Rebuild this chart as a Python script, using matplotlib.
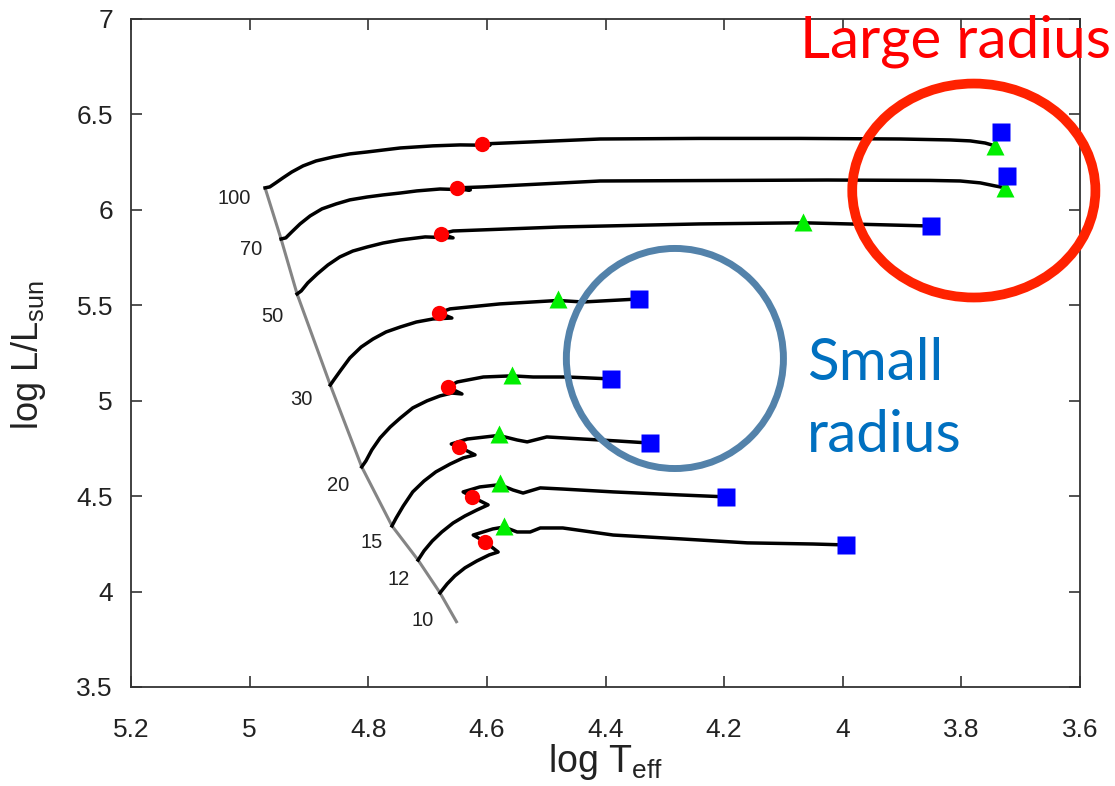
import matplotlib
matplotlib.use("Agg")
import matplotlib.pyplot as plt
from matplotlib.patches import Ellipse

plt.rcParams['font.family'] = ['Liberation Sans', 'DejaVu Sans']
plt.rcParams['mathtext.default'] = 'regular'

# ZAMS line (grey) and mass labels
zams_x = [4.974, 4.947, 4.920, 4.864, 4.811, 4.760, 4.716, 4.679, 4.650]
zams_y = [6.115, 5.847, 5.559, 5.082, 4.653, 4.344, 4.165, 3.993, 3.835]
mass_labels = ['100', '70', '50', '30', '20', '15', '12', '10']
label_x = [5.026, 4.998, 4.961, 4.912, 4.851, 4.794, 4.748, 4.709]
label_y = [6.057, 5.790, 5.439, 5.004, 4.553, 4.255, 4.061, 3.846]

# evolutionary tracks
t100_x = [4.974, 4.966, 4.956, 4.944, 4.929, 4.910, 4.888, 4.859, 4.831, 4.802, 4.746, 4.691, 4.645,
          4.595, 4.608, 4.522, 4.409, 4.241, 4.072, 3.903, 3.819, 3.785, 3.760, 3.743]
t100_y = [6.115, 6.120, 6.141, 6.167, 6.198, 6.230, 6.256, 6.277, 6.293, 6.303, 6.324, 6.335, 6.340,
          6.338, 6.345, 6.356, 6.371, 6.374, 6.374, 6.371, 6.366, 6.361, 6.350, 6.335]
t70_x = [4.947, 4.939, 4.929, 4.915, 4.898, 4.878, 4.854, 4.831, 4.802, 4.775, 4.746, 4.718, 4.679,
         4.628, 4.650, 4.606, 4.409, 4.026, 3.853, 3.802, 3.768, 3.743, 3.726]
t70_y = [5.847, 5.853, 5.884, 5.926, 5.968, 6.005, 6.031, 6.052, 6.067, 6.078, 6.088, 6.099, 6.109,
         6.104, 6.115, 6.120, 6.151, 6.156, 6.154, 6.151, 6.141, 6.125, 6.115]
t50_x = [4.920, 4.913, 4.902, 4.886, 4.868, 4.848, 4.826, 4.802, 4.775, 4.746, 4.704, 4.657,
         4.677, 4.657, 4.477, 4.241, 4.067, 3.851]
t50_y = [5.559, 5.575, 5.617, 5.664, 5.711, 5.753, 5.784, 5.805, 5.826, 5.842, 5.858, 5.853,
         5.874, 5.889, 5.910, 5.926, 5.932, 5.915]
t30_x = [4.864, 4.858, 4.846, 4.831, 4.812, 4.792, 4.770, 4.746, 4.719, 4.691, 4.659,
         4.681, 4.662, 4.578, 4.480, 4.438, 4.343]
t30_y = [5.082, 5.109, 5.161, 5.224, 5.281, 5.323, 5.360, 5.386, 5.412, 5.428, 5.433,
         5.460, 5.481, 5.507, 5.525, 5.517, 5.533]
t20_x = [4.811, 4.804, 4.794, 4.780, 4.763, 4.746, 4.725, 4.701, 4.679, 4.659, 4.642,
         4.666, 4.650, 4.606, 4.558, 4.522, 4.465, 4.391]
t20_y = [4.653, 4.684, 4.742, 4.805, 4.862, 4.909, 4.962, 4.999, 5.025, 5.040, 5.035,
         5.072, 5.098, 5.124, 5.130, 5.124, 5.124, 5.114]
t15_x = [4.760, 4.753, 4.741, 4.725, 4.706, 4.686, 4.662, 4.640, 4.620,
         4.647, 4.660, 4.633, 4.580, 4.549, 4.532, 4.499, 4.438, 4.381, 4.325]
t15_y = [4.344, 4.385, 4.448, 4.522, 4.579, 4.627, 4.668, 4.700, 4.716,
         4.758, 4.773, 4.799, 4.818, 4.794, 4.784, 4.810, 4.799, 4.789, 4.778]
t12_x = [4.716, 4.706, 4.692, 4.676, 4.657, 4.637, 4.617, 4.598,
         4.625, 4.640, 4.612, 4.578, 4.556, 4.539, 4.510, 4.472, 4.387, 4.274, 4.197]
t12_y = [4.165, 4.213, 4.265, 4.312, 4.359, 4.396, 4.427, 4.454,
         4.496, 4.522, 4.548, 4.560, 4.532, 4.516, 4.543, 4.537, 4.522, 4.506, 4.496]
t10_x = [4.679, 4.667, 4.654, 4.637, 4.617, 4.596, 4.581,
         4.603, 4.623, 4.590, 4.571, 4.549, 4.527, 4.510, 4.472, 4.387, 4.274, 4.161, 4.050, 3.994]
t10_y = [3.993, 4.040, 4.082, 4.124, 4.160, 4.192, 4.207,
         4.260, 4.296, 4.328, 4.338, 4.312, 4.312, 4.333, 4.333, 4.296, 4.276, 4.255, 4.249, 4.244]

# markers (100 ... 10 Msun)
red_x = [4.608, 4.650, 4.677, 4.681, 4.666, 4.647, 4.625, 4.603]
red_y = [6.345, 6.115, 5.874, 5.460, 5.072, 4.758, 4.496, 4.260]
tri_x = [3.743, 3.726, 4.067, 4.480, 4.558, 4.580, 4.578, 4.571]
tri_y = [6.335, 6.115, 5.936, 5.533, 5.135, 4.826, 4.569, 4.344]
sq_x = [3.733, 3.723, 3.851, 4.343, 4.391, 4.325, 4.197, 3.994]
sq_y = [6.408, 6.177, 5.915, 5.533, 5.114, 4.778, 4.496, 4.244]

tracks = [(t100_x, t100_y), (t70_x, t70_y), (t50_x, t50_y), (t30_x, t30_y),
          (t20_x, t20_y), (t15_x, t15_y), (t12_x, t12_y), (t10_x, t10_y)]

fig = plt.figure(figsize=(11.15, 7.86), dpi=100)
ax = fig.add_axes([0.1175, 0.126, 0.8511, 0.8499])

ax.plot(zams_x, zams_y, color='#858585', lw=2.2, solid_capstyle='butt', zorder=2)
for tx, ty in tracks:
    ax.plot(tx, ty, color='black', lw=2.5, solid_joinstyle='round', zorder=3)

ax.plot(red_x, red_y, 'o', color='#ff0000', ms=11, mec='none', zorder=4)
ax.plot(tri_x, tri_y, '^', color='#00ee00', ms=13, mec='none', zorder=4)
ax.plot(sq_x, sq_y, 's', color='#0000ff', ms=12.5, mec='none', zorder=4)

for lab, lx, ly in zip(mass_labels, label_x, label_y):
    ax.text(lx, ly, lab, fontsize=14.5, ha='center', va='center', color='#222222')

ax.set_xlim(5.2, 3.6)
ax.set_ylim(3.5, 7)
ax.set_xticks([5.2, 5.0, 4.8, 4.6, 4.4, 4.2, 4.0, 3.8, 3.6])
ax.set_xticklabels(['5.2', '5', '4.8', '4.6', '4.4', '4.2', '4', '3.8', '3.6'])
ax.set_yticks([3.5, 4, 4.5, 5, 5.5, 6, 6.5, 7])
ax.set_yticklabels(['3.5', '4', '4.5', '5', '5.5', '6', '6.5', '7'])
ax.tick_params(direction='in', top=True, right=True, length=8, width=1.2,
               labelsize=19, color='#333333', labelcolor='#222222')
ax.tick_params(axis='x', pad=22)
ax.tick_params(axis='y', pad=13)
for s in ax.spines.values():
    s.set_linewidth(1.3)
    s.set_color('#333333')

ax.set_xlabel('log T$_{eff}$', fontsize=27, labelpad=0, color='#222222')
ax.set_ylabel('log L/L$_{sun}$', fontsize=26, color='#222222')
ax.yaxis.set_label_coords(-0.088, 0.497)

# highlight circles
ax.add_patch(Ellipse((3.779, 6.101), 0.410, 1.121, fill=False, ec='#ff2200',
                     lw=7, clip_on=False, zorder=6))
ax.add_patch(Ellipse((4.283, 5.221), 0.366, 1.153, fill=False, ec='#5382aa',
                     lw=5, clip_on=False, zorder=6))

fig.text(800 / 1115, 1 - 58 / 786, 'Large radius', fontsize=42, color='#ff0000',
         family=['Lato', 'DejaVu Sans'], ha='left', va='baseline')
fig.text(807 / 1115, 1 - 380 / 786, 'Small', fontsize=42, color='#0070c0',
         family=['Lato', 'DejaVu Sans'], ha='left', va='baseline')
fig.text(807 / 1115, 1 - 452 / 786, 'radius', fontsize=42, color='#0070c0',
         family=['Lato', 'DejaVu Sans'], ha='left', va='baseline')

fig.savefig('out.png', dpi=100)
